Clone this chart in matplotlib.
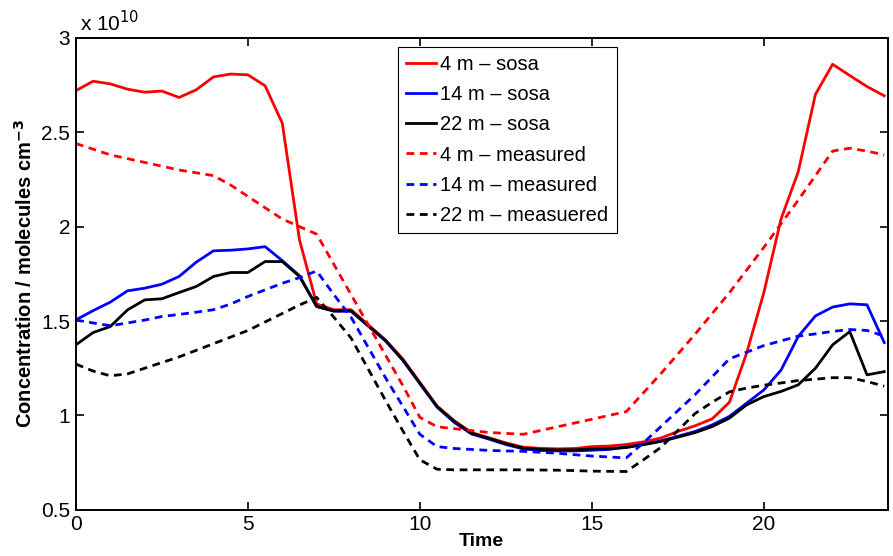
import numpy as np
import matplotlib
matplotlib.use('Agg')
import matplotlib.pyplot as plt

plt.rcParams['font.family'] = ['Liberation Sans', 'DejaVu Sans']

# time, hours
time = np.arange(0, 24, 0.5)

# concentrations in units of 1e10 molecules cm^-3
sosa_4m = [2.72, 2.77, 2.756, 2.728, 2.712, 2.718, 2.684, 2.725, 2.793, 2.808,
           2.804, 2.746, 2.548, 1.93, 1.59, 1.56, 1.56, 1.48, 1.40, 1.30,
           1.175, 1.05, 0.972, 0.91, 0.882, 0.855, 0.832, 0.826, 0.823, 0.825,
           0.835, 0.838, 0.846, 0.86, 0.88, 0.915, 0.945, 0.982, 1.07, 1.33,
           1.65, 2.04, 2.29, 2.70, 2.86, 2.80, 2.742, 2.693]
sosa_14m = [1.506, 1.555, 1.60, 1.66, 1.674, 1.695, 1.736, 1.812, 1.872, 1.875,
            1.882, 1.894, 1.82, 1.74, 1.577, 1.552, 1.552, 1.473, 1.395, 1.293,
            1.168, 1.044, 0.963, 0.902, 0.875, 0.846, 0.823, 0.815, 0.812, 0.812,
            0.816, 0.82, 0.832, 0.848, 0.865, 0.89, 0.915, 0.95, 0.995, 1.065,
            1.135, 1.24, 1.418, 1.527, 1.574, 1.591, 1.586, 1.386]
sosa_22m = [1.374, 1.439, 1.471, 1.559, 1.612, 1.618, 1.651, 1.683, 1.736, 1.757,
            1.757, 1.815, 1.815, 1.736, 1.577, 1.554, 1.554, 1.475, 1.397, 1.295,
            1.171, 1.047, 0.968, 0.906, 0.88, 0.85, 0.827, 0.82, 0.818, 0.818,
            0.822, 0.825, 0.83, 0.845, 0.862, 0.885, 0.909, 0.941, 0.986, 1.056,
            1.10, 1.127, 1.162, 1.25, 1.374, 1.444, 1.215, 1.232]
meas_4m = [2.44, 2.41, 2.38, 2.36, 2.34, 2.32, 2.30, 2.285, 2.27, 2.22,
           2.16, 2.10, 2.04, 2.00, 1.96, 1.80, 1.64, 1.48, 1.32, 1.16,
           0.99, 0.94, 0.93, 0.92, 0.91, 0.905, 0.90, 0.92, 0.94, 0.96,
           0.98, 1.00, 1.02, 1.12, 1.22, 1.325, 1.43, 1.54, 1.65, 1.77,
           1.89, 2.015, 2.14, 2.27, 2.40, 2.415, 2.40, 2.38]
meas_14m = [1.505, 1.49, 1.475, 1.49, 1.505, 1.524, 1.535, 1.547, 1.56, 1.59,
            1.63, 1.665, 1.70, 1.73, 1.765, 1.64, 1.52, 1.36, 1.20, 1.05,
            0.90, 0.835, 0.825, 0.82, 0.815, 0.812, 0.81, 0.805, 0.80, 0.792,
            0.785, 0.78, 0.775, 0.855, 0.94, 1.025, 1.11, 1.205, 1.30, 1.335,
            1.37, 1.395, 1.42, 1.432, 1.445, 1.455, 1.45, 1.42]
meas_22m = [1.272, 1.235, 1.21, 1.22, 1.25, 1.28, 1.31, 1.345, 1.38, 1.415,
            1.45, 1.495, 1.54, 1.585, 1.625, 1.52, 1.41, 1.245, 1.08, 0.92,
            0.765, 0.715, 0.712, 0.712, 0.712, 0.712, 0.712, 0.711, 0.71, 0.708,
            0.705, 0.704, 0.703, 0.765, 0.83, 0.92, 1.01, 1.07, 1.125, 1.145,
            1.16, 1.172, 1.185, 1.192, 1.20, 1.20, 1.18, 1.155]

labels = ['4 m \u2013 sosa', '14 m \u2013 sosa', '22 m \u2013 sosa',
          '4 m \u2013 measured', '14 m \u2013 measured', '22 m \u2013 measuered']

fig = plt.figure(figsize=(8.93, 5.56), dpi=100)
ax = fig.add_axes([0.085, 0.083, 0.909, 0.849])

dash = (0, (2.8, 2.0))
lw = 2.0
ax.plot(time, sosa_4m, color='#ff0000', lw=lw, label=labels[0])
ax.plot(time, sosa_14m, color='#0000ff', lw=lw, label=labels[1])
ax.plot(time, sosa_22m, color='black', lw=lw, label=labels[2])
ax.plot(time, meas_4m, color='#ff0000', lw=lw, ls=dash, label=labels[3])
ax.plot(time, meas_14m, color='#0000ff', lw=lw, ls=dash, label=labels[4])
ax.plot(time, meas_22m, color='black', lw=lw, ls=dash, label=labels[5])

ax.set_xlim(0, 23.6)
ax.set_ylim(0.5, 3)
ax.set_xticks([0, 5, 10, 15, 20])
ax.set_yticks([0.5, 1, 1.5, 2, 2.5, 3])
ax.set_yticklabels(['0.5', '1', '1.5', '2', '2.5', '3'])
ax.tick_params(direction='in', top=True, right=True, labelsize=15, length=6, width=1.2, pad=4)
for s in ax.spines.values():
    s.set_linewidth(1.4)

ax.set_xlabel('Time', fontsize=14, fontweight='bold', labelpad=-1)
ax.set_ylabel('Concentration / molecules cm$^{\\mathbf{-3}}$', fontsize=14.5, fontweight='bold', labelpad=4)
ax.text(0.005, 1.005, 'x 10$^{10}$', transform=ax.transAxes, fontsize=15, ha='left', va='bottom')

leg = ax.legend(loc='upper left', bbox_to_anchor=(0.397, 0.98), fontsize=14.5, fancybox=False,
                framealpha=1, edgecolor='black', handlelength=1.5, handletextpad=0.2,
                labelspacing=0.55, borderpad=0.4, borderaxespad=0)
leg.get_frame().set_linewidth(0.8)

fig.savefig('out.png', dpi=100)
